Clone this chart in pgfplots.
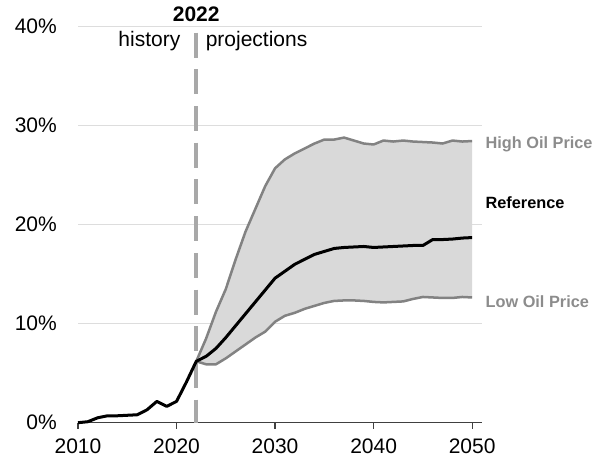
\documentclass[border=0pt]{standalone}
\usepackage{fontspec}
\setmainfont{Liberation Sans}
\usepackage{pgfplots}
\pgfplotsset{compat=1.18}
\usepgfplotslibrary{fillbetween}
\usetikzlibrary{calc}
\definecolor{bandfill}{HTML}{D9D9D9}
\definecolor{caseline}{HTML}{828282}
\definecolor{caselabel}{HTML}{8C8C8C}
\definecolor{gridgray}{HTML}{DDDDDD}
\definecolor{divider}{HTML}{A8A8A8}
\definecolor{axisdark}{HTML}{404040}

% reference case, history + projection
\pgfplotstableread{
year val
2010 0.0
2011 0.1
2012 0.5
2013 0.7
2014 0.7
2015 0.75
2016 0.8
2017 1.3
2018 2.15
2019 1.65
2020 2.15
2021 4.1
2022 6.2
2023 6.7
2024 7.5
2025 8.6
2026 9.8
2027 11.0
2028 12.2
2029 13.4
2030 14.6
2031 15.3
2032 16.0
2033 16.5
2034 17.0
2035 17.3
2036 17.6
2037 17.7
2038 17.75
2039 17.8
2040 17.7
2041 17.75
2042 17.8
2043 17.85
2044 17.9
2045 17.9
2046 18.5
2047 18.5
2048 18.55
2049 18.65
2050 18.7
}\refcase

\pgfplotstableread{
year val
2022 6.2
2023 8.5
2024 11.2
2025 13.5
2026 16.5
2027 19.3
2028 21.6
2029 23.9
2030 25.7
2031 26.6
2032 27.2
2033 27.7
2034 28.2
2035 28.6
2036 28.6
2037 28.8
2038 28.5
2039 28.2
2040 28.1
2041 28.5
2042 28.4
2043 28.5
2044 28.4
2045 28.35
2046 28.3
2047 28.2
2048 28.5
2049 28.4
2050 28.45
}\highcase

\pgfplotstableread{
year val
2022 6.2
2023 5.9
2024 5.9
2025 6.5
2026 7.2
2027 7.9
2028 8.6
2029 9.2
2030 10.2
2031 10.8
2032 11.1
2033 11.5
2034 11.8
2035 12.1
2036 12.3
2037 12.35
2038 12.35
2039 12.3
2040 12.2
2041 12.15
2042 12.2
2043 12.25
2044 12.5
2045 12.7
2046 12.65
2047 12.6
2048 12.6
2049 12.7
2050 12.65
}\lowcase

\begin{document}
\fontsize{21}{25}\selectfont
\begin{tikzpicture}
\begin{axis}[
  scale only axis, width=404pt, height=396pt,
  xmin=2010, xmax=2051, ymin=0, ymax=40,
  axis x line*=bottom, axis y line*=left,
  separate axis lines,
  x axis line style={axisdark, line width=1.5pt, -},
  y axis line style={draw=none},
  xtick={2010,2020,...,2050},
  ytick={0,10,...,40},
  ymajorgrids, grid style={gridgray, line width=1pt},
  tick align=outside,
  major tick length=6pt,
  x tick style={axisdark, line width=1.2pt},
  y tick style={draw=none},
  /pgf/number format/assume math mode=true,
  /pgf/number format/1000 sep={},
  yticklabel={\pgfmathprintnumber{\tick}\%},
  yticklabel style={xshift=-8pt},
  xticklabel style={yshift=-3pt},
  tick label style={font=\fontsize{21}{25}\selectfont},
  clip=false,
]
\coordinate (sw) at (rel axis cs:0,0);
\coordinate (ne) at (rel axis cs:1,1);

\addplot[draw=none, name path=high, forget plot] table[x=year, y=val] {\highcase};
\addplot[draw=none, name path=low, forget plot] table[x=year, y=val] {\lowcase};
\addplot[bandfill, forget plot] fill between[of=high and low];

\addplot[divider, line width=3.5pt, dash pattern=on 25pt off 11.7pt] coordinates {(2022,39.4) (2022,0)};

\addplot[caseline, line width=2.5pt, line join=round] table[x=year, y=val] {\highcase};
\addplot[caseline, line width=2.5pt, line join=round] table[x=year, y=val] {\lowcase};
\addplot[black, line width=3pt, line join=round] table[x=year, y=val] {\refcase};

\node[anchor=base, font=\bfseries, inner sep=0pt] at (axis cs:2022,40.5) {2022};
\node[anchor=base east, inner sep=0pt] at (axis cs:2020.4,38.0) {history};
\node[anchor=base west, inner sep=0pt] at (axis cs:2022.95,38.0) {projections};

\node[anchor=base west, inner sep=0pt, font=\fontsize{16.3}{19}\bfseries, text=caselabel] at (axis cs:2051.35,27.65) {High Oil Price};
\node[anchor=base west, inner sep=0pt, font=\fontsize{16.3}{19}\bfseries, text=black] at (axis cs:2051.35,21.6) {Reference};
\node[anchor=base west, inner sep=0pt, font=\fontsize{16.3}{19}\bfseries, text=caselabel] at (axis cs:2051.35,11.6) {Low Oil Price};
\end{axis}
\pgfresetboundingbox
\useasboundingbox ($(sw)+(-78pt,-44pt)$) rectangle ($(ne)+(128pt,26.7pt)$);
\end{tikzpicture}
\end{document}
